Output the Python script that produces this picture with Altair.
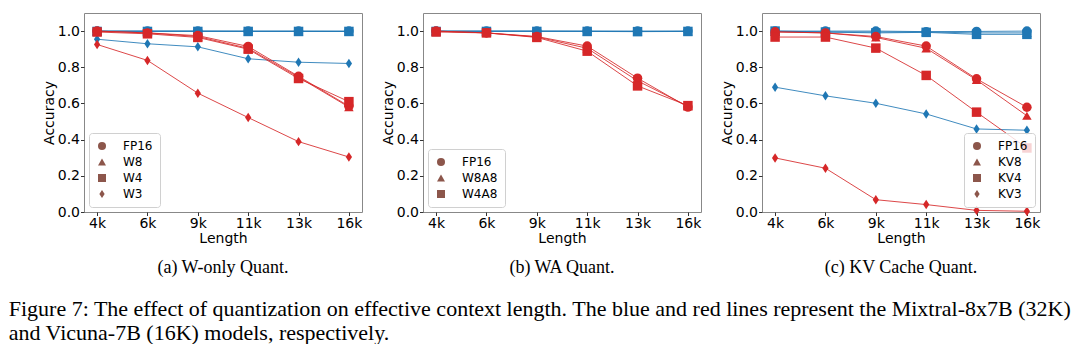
import altair as alt
import pandas as pd

lengths = ["4k", "6k", "9k", "11k", "13k", "16k"]
models = ["Mixtral-8x7B", "Vicuna-7B"]
model_colors = ["#1f77b4", "#d62728"]

# (a) W-only Quant.
a_quants = ["FP16", "W8", "W4", "W3"]
a_mixtral = {
    "FP16": [1.0, 1.0, 1.0, 1.0, 1.0, 1.0],
    "W8": [1.0, 1.0, 1.0, 0.999, 0.999, 0.998],
    "W4": [0.998, 0.998, 0.998, 0.998, 0.998, 0.998],
    "W3": [0.955, 0.93, 0.913, 0.847, 0.828, 0.821],
}
a_vicuna = {
    "FP16": [1.0, 0.99, 0.975, 0.915, 0.75, 0.585],
    "W8": [1.0, 0.99, 0.97, 0.905, 0.745, 0.58],
    "W4": [0.995, 0.985, 0.965, 0.9, 0.738, 0.61],
    "W3": [0.926, 0.838, 0.657, 0.522, 0.389, 0.304],
}

# (b) WA Quant.
b_quants = ["FP16", "W8A8", "W4A8"]
b_mixtral = {
    "FP16": [1.0, 1.0, 1.0, 1.0, 1.0, 1.0],
    "W8A8": [1.0, 1.0, 1.0, 0.999, 0.998, 0.999],
    "W4A8": [0.998, 0.998, 0.998, 0.998, 0.997, 0.998],
}
b_vicuna = {
    "FP16": [1.0, 0.99, 0.97, 0.917, 0.74, 0.58],
    "W8A8": [1.0, 0.99, 0.968, 0.905, 0.725, 0.585],
    "W4A8": [0.995, 0.99, 0.965, 0.889, 0.697, 0.588],
}

# (c) KV Cache Quant.
c_quants = ["FP16", "KV8", "KV4", "KV3"]
c_mixtral = {
    "FP16": [1.0, 1.0, 1.0, 0.997, 0.998, 1.0],
    "KV8": [0.998, 0.995, 0.995, 0.995, 0.99, 0.99],
    "KV4": [1.0, 0.995, 0.99, 0.993, 0.982, 0.982],
    "KV3": [0.69, 0.642, 0.601, 0.542, 0.459, 0.452],
}
c_vicuna = {
    "FP16": [0.996, 0.99, 0.97, 0.917, 0.736, 0.579],
    "KV8": [0.995, 0.99, 0.965, 0.905, 0.73, 0.532],
    "KV4": [0.967, 0.967, 0.906, 0.755, 0.552, 0.354],
    "KV3": [0.299, 0.242, 0.068, 0.041, 0.009, 0.004],
}

sub_captions = ["(a) W-only Quant.", "(b) WA Quant.", "(c) KV Cache Quant."]
fig_caption = [
    "Figure 7: The effect of quantization on effective context length. The blue and red lines represent the Mixtral-8x7B (32K)",
    "and Vicuna-7B (16K) models, respectively.",
]

thin_diamond = "M0,-1L0.66,0L0,1L-0.66,0Z"
shape_range = ["circle", "triangle-up", "square", thin_diamond]


def to_frame(mixtral, vicuna):
    rows = []
    for model, series in ((models[0], mixtral), (models[1], vicuna)):
        for quant, vals in series.items():
            for length, v in zip(lengths, vals):
                rows.append({"model": model, "quant": quant, "length": length, "acc": v})
    return pd.DataFrame(rows)


def make_panel(df, quants, legend_orient, caption):
    x = alt.X(
        "length:N",
        sort=lengths,
        scale=alt.Scale(type="point", padding=0.26),
        axis=alt.Axis(title="Length", labelAngle=0),
    )
    y = alt.Y(
        "acc:Q",
        scale=alt.Scale(domain=[0, 1.1], nice=False, zero=True),
        axis=alt.Axis(title="Accuracy", values=[0, 0.2, 0.4, 0.6, 0.8, 1.0], format=".1f"),
    )
    color = alt.Color("model:N", scale=alt.Scale(domain=models, range=model_colors), legend=None)
    shape = alt.Shape(
        "quant:N",
        scale=alt.Scale(domain=quants, range=shape_range[: len(quants)]),
        sort=quants,
        legend=alt.Legend(
            title=None,
            orient=legend_orient,
            offset=5,
            fillColor="rgba(255,255,255,0.8)",
            strokeColor="#d0d0d0",
            cornerRadius=3,
            padding=7,
            symbolSize=64,
            symbolFillColor="#8c564b",
            symbolStrokeColor="#8c564b",
            symbolStrokeWidth=0,
            symbolOpacity=1,
            labelFont="DejaVu Sans",
            labelFontSize=12,
            labelColor="#000000",
            labelOffset=15,
            rowPadding=4,
        ),
    )
    base = alt.Chart(df)
    layers = []
    for m in models:
        sub = base.transform_filter(alt.datum.model == m)
        layers.append(
            sub.mark_line(strokeWidth=1, opacity=0.85).encode(x=x, y=y, color=color, detail="quant:N")
        )
        layers.append(
            sub.mark_point(filled=True, size=90, opacity=1).encode(x=x, y=y, color=color, shape=shape)
        )
    return alt.layer(*layers).properties(
        width=278,
        height=199,
        view=alt.ViewBackground(stroke="#888888", strokeWidth=1),
        title=alt.TitleParams(
            text=caption,
            orient="bottom",
            anchor="middle",
            font="Liberation Serif",
            fontSize=18,
            fontWeight="normal",
            color="#000000",
            offset=13,
        ),
    )


pa = make_panel(to_frame(a_mixtral, a_vicuna), a_quants, "bottom-left", sub_captions[0])
pb = make_panel(to_frame(b_mixtral, b_vicuna), b_quants, "bottom-left", sub_captions[1])
pc = make_panel(to_frame(c_mixtral, c_vicuna), c_quants, "bottom-right", sub_captions[2])

chart = (
    alt.hconcat(pa, pb, pc, spacing=17)
    .resolve_scale(shape="independent")
    .resolve_legend(shape="independent")
    .properties(
        padding={"left": 0, "top": 4, "right": 0, "bottom": 0},
        title=alt.TitleParams(
            text=fig_caption,
            orient="bottom",
            anchor="start",
            font="Liberation Serif",
            fontSize=22,
            fontWeight="normal",
            color="#000000",
            lineHeight=24,
            offset=22,
            dx=-33,
        ),
    )
    .configure_view(stroke=None)
    .configure_axis(
        labelFont="DejaVu Sans",
        labelFontSize=14,
        labelColor="#000000",
        titleFont="DejaVu Sans",
        titleFontSize=14,
        titleFontWeight="normal",
        titleColor="#000000",
        tickColor="#333333",
        tickSize=3.5,
        labelPadding=1,
        domain=False,
        grid=False,
    )
    .configure_axisX(titlePadding=1)
    .configure_axisY(titlePadding=1)
)

chart.save("out.html", embed_options={"renderer": "svg", "actions": False})
